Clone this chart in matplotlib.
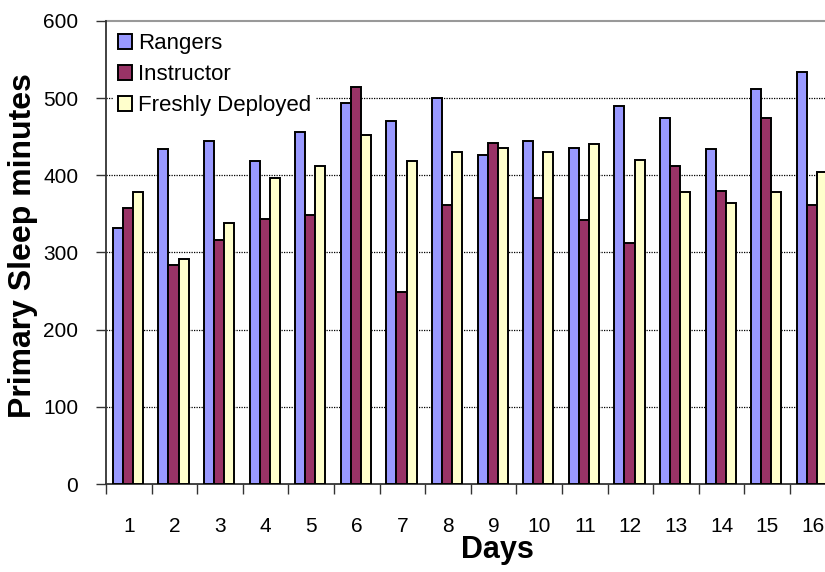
import matplotlib.pyplot as plt
import numpy as np

plt.rcParams['font.family'] = ['Liberation Sans', 'DejaVu Sans']

# data
days = [str(d) for d in range(1, 17)]
rangers = [332, 434, 444, 418, 456, 494, 470, 500, 426, 444, 436, 490, 474, 434, 512, 534]
instructor = [358, 284, 316, 343, 348, 514, 249, 362, 442, 370, 342, 312, 412, 380, 474, 362]
deployed = [378, 292, 338, 396, 412, 452, 418, 430, 436, 430, 440, 420, 378, 364, 378, 404]
series_names = ['Rangers', 'Instructor', 'Freshly Deployed']
colors = ['#9999FF', '#993366', '#FFFFCC']
yticks = [0, 100, 200, 300, 400, 500, 600]

W, H = 825, 572
fig = plt.figure(figsize=(W / 100, H / 100), dpi=100)
ax = fig.add_axes([106 / W, (H - 484) / H, 729.6 / W, 463 / H])

x = np.arange(len(days)) + 0.5
w = 0.222
for k, (vals, name, col) in enumerate(zip([rangers, instructor, deployed], series_names, colors)):
    ax.bar(x + (k - 1) * w - 0.02, vals, width=w, color=col, edgecolor='black',
           linewidth=1.4, label=name, zorder=3)

ax.set_xlim(0, len(days))
ax.set_ylim(0, 600)

# gridlines
for v in yticks[1:-1]:
    ax.axhline(v, color='black', linestyle=(0, (1, 1)), linewidth=0.9, zorder=1)
ax.axhline(600, color='#999999', linewidth=1.5, zorder=1, clip_on=False)

ax.set_yticks(yticks)
ax.set_xticks(np.arange(len(days) + 1))
ax.set_xticklabels([])
ax.set_xticks(x, minor=True)
ax.set_xticklabels(days, minor=True)
ax.tick_params(axis='x', which='major', direction='out', length=7, width=1, color='#333333')
ax.tick_params(axis='x', which='minor', length=0, pad=24, labelsize=15)
ax.tick_params(axis='y', direction='out', length=7, width=1, pad=13, labelsize=15,
               color='#333333')

for s in ['top', 'right']:
    ax.spines[s].set_visible(False)
ax.spines['left'].set_color('#333333')
ax.spines['left'].set_linewidth(1.3)
ax.spines['bottom'].set_color('#333333')
ax.spines['bottom'].set_linewidth(1.3)

fig.text(23 / W, 1 - 246 / H, 'Primary Sleep minutes', rotation=90, fontsize=23,
         fontweight='bold', ha='center', va='center')
fig.text(497 / W, 1 - 550 / H, 'Days', fontsize=22, fontweight='bold',
         ha='center', va='center')

leg = ax.legend(loc='upper left', bbox_to_anchor=(0.0, 1.0), fontsize=16,
                frameon=True, fancybox=False, edgecolor='none', facecolor='white',
                framealpha=1, handlelength=0.6, handleheight=0.65, handletextpad=0.3,
                labelspacing=0.45, borderpad=0.2, borderaxespad=0.35)
leg.set_zorder(4)

fig.savefig('out.png', dpi=100, facecolor='white')
